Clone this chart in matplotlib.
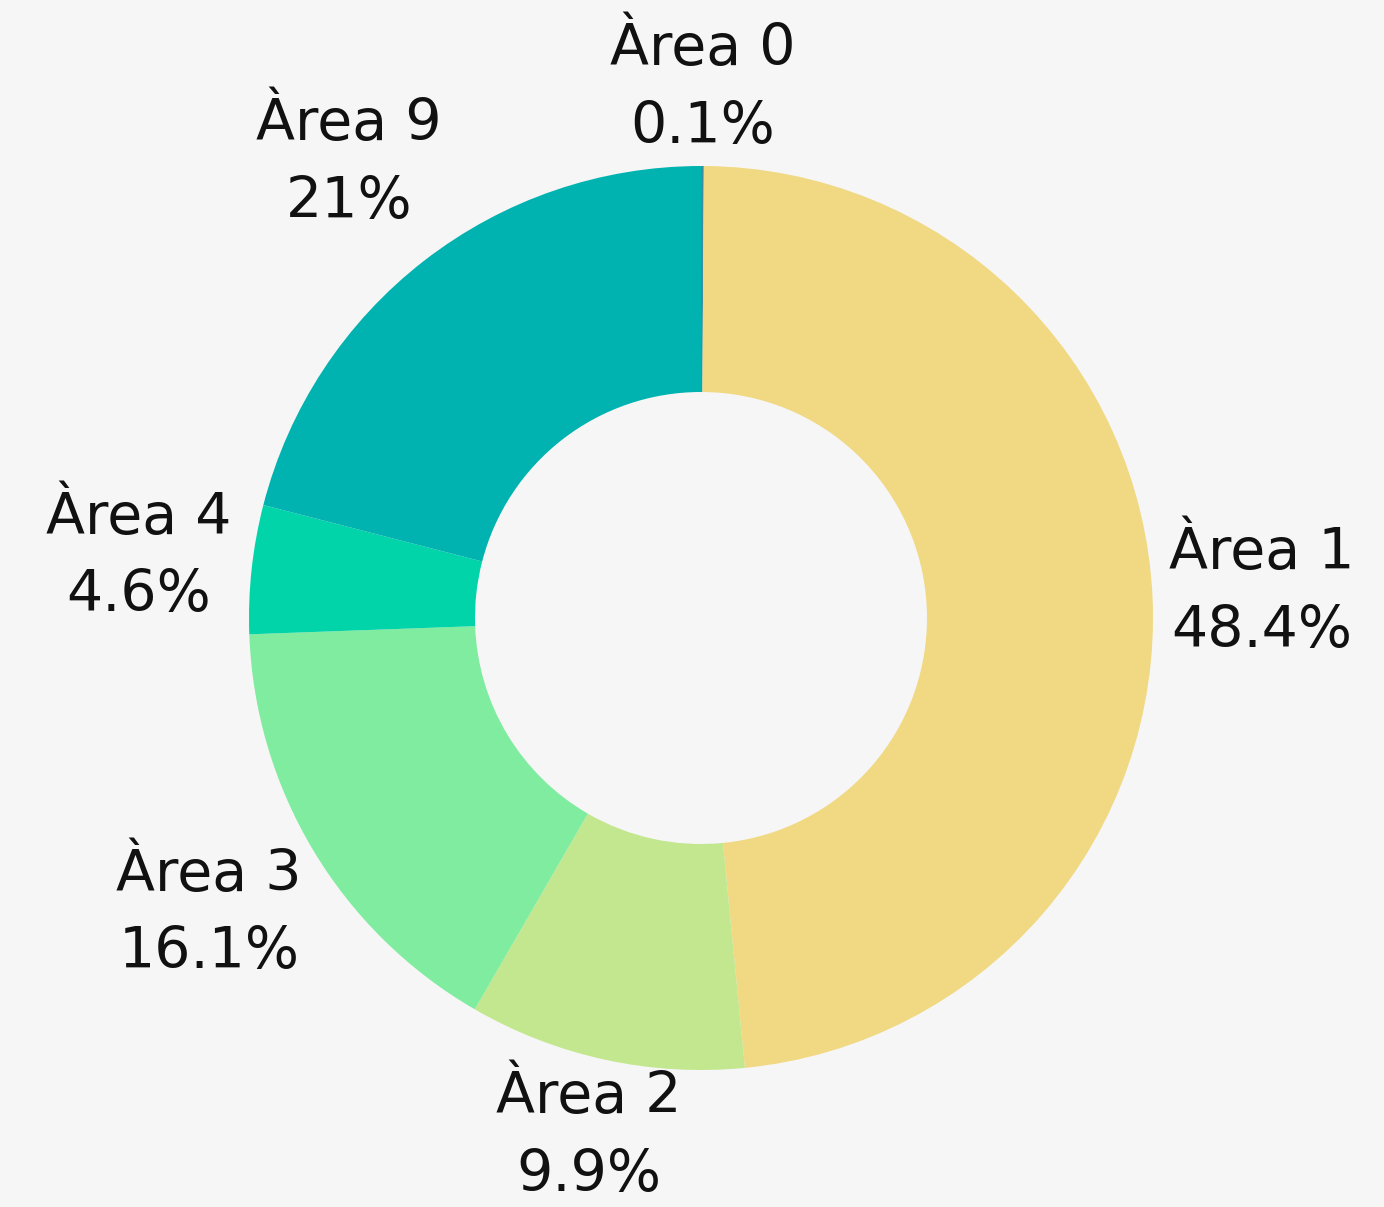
import numpy as np
import matplotlib
matplotlib.use("Agg")
import matplotlib.pyplot as plt

labels = ["Àrea 0", "Àrea 1", "Àrea 2", "Àrea 3", "Àrea 4", "Àrea 9"]
values = [0.1, 48.4, 9.9, 16.1, 4.6, 21.0]
pct_text = ["0.1%", "48.4%", "9.9%", "16.1%", "4.6%", "21%"]
colors = ["#3A8FA3", "#F0D982", "#C3E78E", "#80EC9F", "#00D4A8", "#00B3B0"]

W, H = 1384, 1207
fig = plt.figure(figsize=(W / 100, H / 100), dpi=100)
fig.patch.set_facecolor("#F6F6F6")
ax = fig.add_axes([0, 0, 1, 1])

cx, cy, R = 701, H - 618, 452
wedges, _ = ax.pie(values, colors=colors, startangle=90, counterclock=False,
                   radius=R, center=(cx, cy),
                   wedgeprops=dict(width=R * 0.5, linewidth=0))
ax.set_xlim(0, W)
ax.set_ylim(0, H)
ax.set_aspect("equal")
ax.axis("off")

renderer = fig.canvas.get_renderer()
total = sum(values)
cum = 0
for lab, v, pt in zip(labels, values, pct_text):
    mid = (cum + v / 2) / total
    cum += v
    ang = np.deg2rad(90 - 360 * mid)
    c, s = np.cos(ang), np.sin(ang)
    t = ax.text(cx, cy, f"{lab}\n{pt}", ha="center", va="center",
                fontsize=41, family="DejaVu Sans", color="#111111",
                linespacing=1.52, multialignment="center")
    bb = t.get_window_extent(renderer)
    hw, hh = bb.width / 2, bb.height / 2 - 3
    ext = min(hw / max(abs(c), 1e-6), hh / max(abs(s), 1e-6))
    r = R + 14 + 60 * max(0.0, s) * abs(c) + ext
    t.set_position((cx + r * c, cy + r * s))

fig.savefig("out.png", dpi=100, facecolor=fig.get_facecolor())
